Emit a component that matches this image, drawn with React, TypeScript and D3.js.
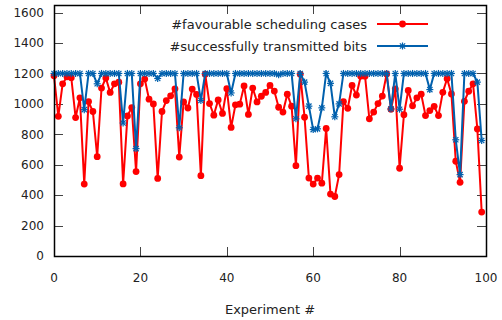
import React from "react";
import * as d3 from "d3";

// #favourable scheduling cases, one value per experiment (0..99)
const favourable = [
    1185, 918, 1132, 1178, 1172, 910, 1040, 473, 1015, 950,
    653, 1104, 1170, 1075, 1132, 1143, 474, 921, 976, 555,
    1132, 1163, 1031, 1000, 510, 950, 1022, 1053, 1099, 650,
    1013, 973, 1097, 1062, 528, 1195, 1002, 926, 1026, 937,
    1100, 845, 994, 998, 1118, 931, 1104, 1013, 1050, 1075,
    1121, 1084, 978, 946, 1064, 985, 594, 1194, 912, 512,
    473, 512, 479, 838, 407, 391, 535, 1015, 971, 1121,
    1058, 1182, 1182, 902, 946, 1002, 1051, 1197, 965, 1099,
    577, 929, 1088, 987, 1040, 1064, 923, 956, 984, 923,
    1076, 1166, 1065, 623, 484, 1017, 1083, 1132, 835, 289,
];

// #successfully transmitted bits
const transmitted = [
    1200, 1200, 1200, 1200, 1200, 1200, 1200, 962, 1200, 1200,
    1132, 1200, 1200, 1200, 1200, 1200, 874, 1200, 1200, 706,
    1200, 1200, 1200, 1200, 1167, 1200, 1200, 1200, 1200, 843,
    1200, 1200, 1200, 1200, 1022, 1200, 1200, 1200, 1200, 1200,
    1200, 1072, 1200, 1200, 1200, 1200, 1200, 1200, 1200, 1200,
    1200, 1200, 1192, 1200, 1200, 1200, 902, 1200, 1143, 985,
    831, 836, 974, 1200, 1135, 915, 1000, 1200, 1200, 1200,
    1200, 1200, 1200, 1200, 1200, 1200, 1200, 1200, 967, 1200,
    965, 1200, 1200, 1200, 1200, 1200, 1200, 1094, 1200, 1200,
    1200, 1200, 1200, 764, 535, 1200, 1200, 1200, 1143, 759,
];

const seriesLabels = ["#favourable scheduling cases", "#successfully transmitted bits"];
const seriesColors = ["#ff0000", "#0060ad"];
const xTicks = [0, 20, 40, 60, 80, 100];
const yTicks = [0, 200, 400, 600, 800, 1000, 1200, 1400, 1600];

const width = 502;
const height = 320;
const left = 54;
const right = 486;
const top = 5;
const bottom = 256;
const tickLen = 9;
const font = "'DejaVu Sans', Verdana, sans-serif";

const Asterisk = ({ cx, cy, r, color }: any) => (
    <g stroke={color} strokeWidth={1.2}>
        <line x1={cx - r} y1={cy} x2={cx + r} y2={cy} />
        <line x1={cx} y1={cy - r} x2={cx} y2={cy + r} />
        <line x1={cx - r * 0.75} y1={cy - r * 0.75} x2={cx + r * 0.75} y2={cy + r * 0.75} />
        <line x1={cx - r * 0.75} y1={cy + r * 0.75} x2={cx + r * 0.75} y2={cy - r * 0.75} />
    </g>
);

export default function App() {
    const x = d3.scaleLinear([0, 100], [left, right]);
    const y = d3.scaleLinear([0, 1650], [bottom, top]);

    const line = d3
        .line<number>()
        .x((_, i) => x(i))
        .y((d) => y(d));

    const legendX1 = 377;
    const legendX2 = 428;
    const legendY = [24, 46];

    return (
        <svg
            width={width}
            height={height}
            style={{ position: "absolute", top: 0, left: 0, background: "#fff" }}
            fontFamily={font}
        >
            {/* ticks, mirrored on all four sides */}
            <g stroke="#444" strokeWidth={1}>
                {yTicks.map((t) => (
                    <React.Fragment key={`yt${t}`}>
                        <line x1={left} x2={left + tickLen} y1={Math.round(y(t)) + 0.5} y2={Math.round(y(t)) + 0.5} />
                        <line x1={right} x2={right - tickLen} y1={Math.round(y(t)) + 0.5} y2={Math.round(y(t)) + 0.5} />
                    </React.Fragment>
                ))}
                {xTicks.map((t) => (
                    <React.Fragment key={`xt${t}`}>
                        <line x1={Math.round(x(t)) + 0.5} x2={Math.round(x(t)) + 0.5} y1={bottom} y2={bottom - tickLen} />
                        <line x1={Math.round(x(t)) + 0.5} x2={Math.round(x(t)) + 0.5} y1={top} y2={top + tickLen} />
                    </React.Fragment>
                ))}
            </g>
            {yTicks.map((t) => (
                <text key={`yl${t}`} x={left - 10} y={y(t)} dy="0.36em" textAnchor="end" fontSize={12} fill="#222">
                    {t}
                </text>
            ))}
            {xTicks.map((t) => (
                <text key={`xl${t}`} x={x(t)} y={278} dy="0.36em" textAnchor="middle" fontSize={12} fill="#222">
                    {t}
                </text>
            ))}
            <text x={(left + right) / 2} y={309} dy="0.36em" textAnchor="middle" fontSize={13} fill="#222">
                Experiment #
            </text>

            {/* red series */}
            <path d={line(favourable) || ""} fill="none" stroke={seriesColors[0]} strokeWidth={2} />
            {favourable.map((v, i) => (
                <circle key={`fp${i}`} cx={x(i)} cy={y(v)} r={3.4} fill={seriesColors[0]} />
            ))}

            {/* blue series */}
            <path d={line(transmitted) || ""} fill="none" stroke={seriesColors[1]} strokeWidth={2} />
            {transmitted.map((v, i) => (
                <Asterisk key={`tp${i}`} cx={x(i)} cy={y(v)} r={3.5} color={seriesColors[1]} />
            ))}

            {/* legend */}
            {seriesLabels.map((label, i) => (
                <g key={label}>
                    <text x={legendX1 - 10} y={legendY[i]} dy="0.36em" textAnchor="end" fontSize={13} fill="#222">
                        {label}
                    </text>
                    <line x1={legendX1} x2={legendX2} y1={legendY[i]} y2={legendY[i]} stroke={seriesColors[i]} strokeWidth={2} />
                    {i === 0 ? (
                        <circle cx={(legendX1 + legendX2) / 2} cy={legendY[i]} r={3.4} fill={seriesColors[i]} />
                    ) : (
                        <Asterisk cx={(legendX1 + legendX2) / 2} cy={legendY[i]} r={3.5} color={seriesColors[i]} />
                    )}
                </g>
            ))}

            {/* border */}
            <rect x={left + 0.5} y={top + 0.5} width={right - left} height={bottom - top} fill="none" stroke="#000" strokeWidth={1.5} />
        </svg>
    );
}
